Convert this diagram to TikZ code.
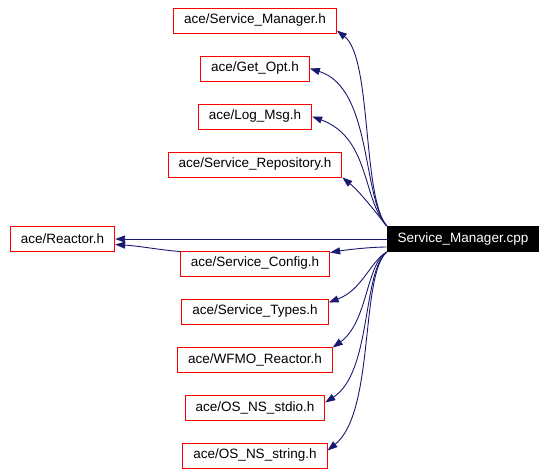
\documentclass[tikz,border=0pt]{standalone}
\usepackage{fontspec}
\setmainfont{Liberation Sans}
\usetikzlibrary{arrows.meta}
\definecolor{edgeblue}{RGB}{25,25,112}
\tikzstyle{header}=[draw=red,line width=1pt,fill=white,inner xsep=10.5pt,inner ysep=0pt,minimum height=25pt,font=\fontsize{13.5}{15}\selectfont]
\tikzstyle{current}=[header,draw=black,fill=black,text=white]
\tikzstyle{include}=[draw=edgeblue,line width=0.9pt,-{Triangle[length=10pt,width=7pt]}]
\newcommand{\newinclude}[4][cpp.north west]{% Syntax: [start] {end} {first control} {second control}
\draw[include] (#1) .. controls (#3) and (#4) .. (#2);
}
\begin{document}
\begin{tikzpicture}[x=1pt,y=-1pt]
\useasboundingbox (0,0) rectangle (546,474);
\foreach \name/\y/\file in {SMh/20.5/Service\_Manager, GetOpt/68.5/Get\_Opt, LogMsg/116.5/Log\_Msg,
  Repo/164.5/Service\_Repository, Config/263.5/Service\_Config, Types/311.5/Service\_Types,
  WFMO/359.5/WFMO\_Reactor, stdio/407.5/OS\_NS\_stdio, string/455.5/OS\_NS\_string}
  \node[header] (\name) at (255,\y) {ace/\file.h};
\node[header] (Reactor) at (62.5,239) {ace/Reactor.h};
\node[current] (cpp) at (463,239) {Service\_Manager.cpp};
% upper fan
\newinclude{[yshift=3pt]SMh.south east}{362,196}{372,58}
\newinclude{GetOpt.east}{362,196}{372,88}
\newinclude{LogMsg.east}{362,198}{370,138}
\newinclude{Repo.south east}{374,210}{360,192}
% middle
\draw[include] (cpp.west) -- (Reactor.east);
\newinclude[cpp.186]{[yshift=-2pt]Config.north east}{370,247}{345,250}
\newinclude[{[yshift=-1pt]Config.north west}]{Reactor.-6}{160,250}{140,246}
% lower fan
\newinclude[cpp.south west]{[yshift=-4pt]Types.north east}{370,262}{362,290}
\newinclude[cpp.south west]{[yshift=-1pt]WFMO.north east}{366,264}{368,322}
\newinclude[cpp.south west]{[yshift=-8pt]stdio.north east}{362,272}{372,372}
\newinclude[cpp.south west]{[yshift=-8pt]string.north east}{360,276}{375,412}
\end{tikzpicture}
\end{document}
